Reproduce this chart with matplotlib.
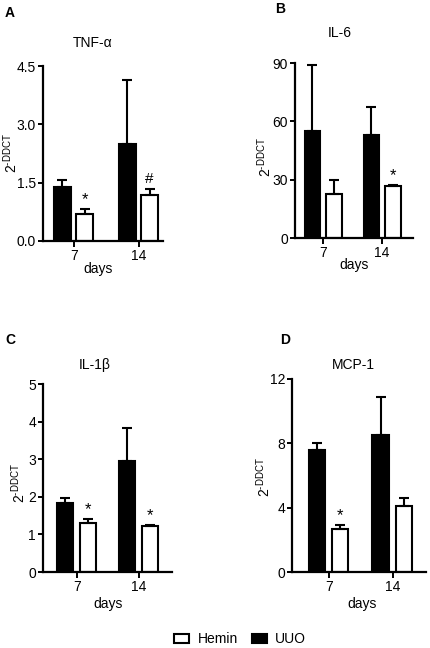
import matplotlib
matplotlib.use("Agg")
import matplotlib.pyplot as plt
from matplotlib.patches import Patch

plt.rcParams['font.family'] = ['Liberation Sans', 'DejaVu Sans']
plt.rcParams['mathtext.fontset'] = 'custom'
plt.rcParams['mathtext.rm'] = 'Liberation Sans'

# ---------------- data ----------------
days = ['7', '14']
groups = ['Hemin', 'UUO']

tnf_uuo = [1.38, 2.50]
tnf_uuo_err = [0.20, 1.65]
tnf_hemin = [0.70, 1.18]
tnf_hemin_err = [0.12, 0.17]
tnf_marks = ['*', '#']
tnf_ticks = [0.0, 1.5, 3.0, 4.5]

il6_uuo = [55.0, 53.0]
il6_uuo_err = [34.0, 14.5]
il6_hemin = [22.5, 26.5]
il6_hemin_err = [7.5, 1.0]
il6_marks = ['', '*']
il6_ticks = [0, 30, 60, 90]

il1b_uuo = [1.83, 2.95]
il1b_uuo_err = [0.13, 0.87]
il1b_hemin = [1.30, 1.23]
il1b_hemin_err = [0.10, 0.03]
il1b_marks = ['*', '*']
il1b_ticks = [0, 1, 2, 3, 4, 5]

mcp_uuo = [7.6, 8.5]
mcp_uuo_err = [0.45, 2.35]
mcp_hemin = [2.7, 4.1]
mcp_hemin_err = [0.22, 0.50]
mcp_marks = ['*', '']
mcp_ticks = [0, 4, 8, 12]

# ---------------- layout ----------------
W, H = 430, 648
fig = plt.figure(figsize=(W / 100, H / 100), dpi=100)


def px(x, y):
    return x / W, 1 - y / H


def make_axes(left, right, top, bottom):
    return fig.add_axes([left / W, 1 - bottom / H, (right - left) / W, (bottom - top) / H])


def panel(ax, uuo, uuo_err, hem, hem_err, marks, ticks, fmt, xlim, uuo_off, hem_off):
    xs = range(len(days))
    xu = [x + uuo_off for x in xs]
    xh = [x + hem_off for x in xs]
    bw = 0.26
    ekw = dict(elinewidth=1.5, capthick=1.5, ecolor='black')
    ax.bar(xu, uuo, width=bw, color='black', edgecolor='black', linewidth=1.5,
           yerr=[[0] * len(uuo), uuo_err], capsize=3.5, error_kw=ekw, zorder=2)
    ax.bar(xh, hem, width=bw, color='white', edgecolor='black', linewidth=1.5,
           yerr=[[0] * len(hem), hem_err], capsize=3.5, error_kw=ekw, zorder=2)
    for x, v, e, m in zip(xh, hem, hem_err, marks):
        if m:
            off = 3.5 if m == '*' else 4.0
            fs = 12 if m == '*' else 11
            ax.annotate(m, (x, v + e), xytext=(0, off), textcoords='offset points',
                        ha='center', va='baseline', fontsize=fs)
    ax.set_xlim(*xlim)
    ax.set_ylim(ticks[0], ticks[-1])
    ax.set_yticks(ticks)
    ax.set_yticklabels([fmt.format(t) for t in ticks])
    ax.set_xticks(list(xs))
    ax.set_xticklabels(days)
    for s in ['top', 'right']:
        ax.spines[s].set_visible(False)
    for s in ['left', 'bottom']:
        ax.spines[s].set_linewidth(1.6)
    ax.tick_params(axis='y', length=3.5, width=1.4, labelsize=10, pad=1.5)
    ax.tick_params(axis='x', length=4.5, width=1.4, labelsize=10, pad=1.5)


# Panel A
axA = make_axes(43, 163, 66, 241)
panel(axA, tnf_uuo, tnf_uuo_err, tnf_hemin, tnf_hemin_err, tnf_marks, tnf_ticks,
      '{:.1f}', (-0.477, 1.37), -0.18, 0.165)
# Panel B
axB = make_axes(295, 413, 63, 238)
panel(axB, il6_uuo, il6_uuo_err, il6_hemin, il6_hemin_err, il6_marks, il6_ticks,
      '{:d}', (-0.475, 1.525), -0.18, 0.185)
# Panel C
axC = make_axes(43, 172, 384, 572)
panel(axC, il1b_uuo, il1b_uuo_err, il1b_hemin, il1b_hemin_err, il1b_marks, il1b_ticks,
      '{:d}', (-0.55, 1.53), -0.19, 0.18)
# Panel D
axD = make_axes(292, 426, 379, 572)
panel(axD, mcp_uuo, mcp_uuo_err, mcp_hemin, mcp_hemin_err, mcp_marks, mcp_ticks,
      '{:d}', (-0.58, 1.52), -0.19, 0.175)

# x labels "days"
for (x, y) in [(98, 269), (354, 265), (108, 604), (362, 604)]:
    fig.text(*px(x, y), 'days', ha='center', va='center', fontsize=10)

# y labels
ylab = r'$\mathregular{2^{\text{-}DDCT}}$'
for (x, y) in [(11, 153), (265, 157), (19, 483), (264, 477)]:
    fig.text(*px(x, y), ylab, ha='center', va='center', rotation=90, fontsize=10)

# titles
for (x, y, t) in [(93, 43, 'TNF-α'), (340, 33, 'IL-6'), (95, 365, 'IL-1β'), (353, 365, 'MCP-1')]:
    fig.text(*px(x, y), t, ha='center', va='center', fontsize=10)

# panel letters
for (x, y, t) in [(10, 13, 'A'), (280, 9, 'B'), (10, 340, 'C'), (285, 340, 'D')]:
    fig.text(*px(x, y), t, ha='center', va='center', fontsize=10, fontweight='bold')

# legend
handles = [Patch(facecolor='white', edgecolor='black', linewidth=1.5, label=groups[0]),
           Patch(facecolor='black', edgecolor='black', linewidth=1.5, label=groups[1])]
fig.legend(handles=handles, loc='center', bbox_to_anchor=px(240, 639), ncol=2,
           frameon=False, fontsize=10, handlelength=1.1, handleheight=0.6,
           handletextpad=0.6, columnspacing=1.0, borderpad=0)

fig.savefig('out.png', dpi=100)
